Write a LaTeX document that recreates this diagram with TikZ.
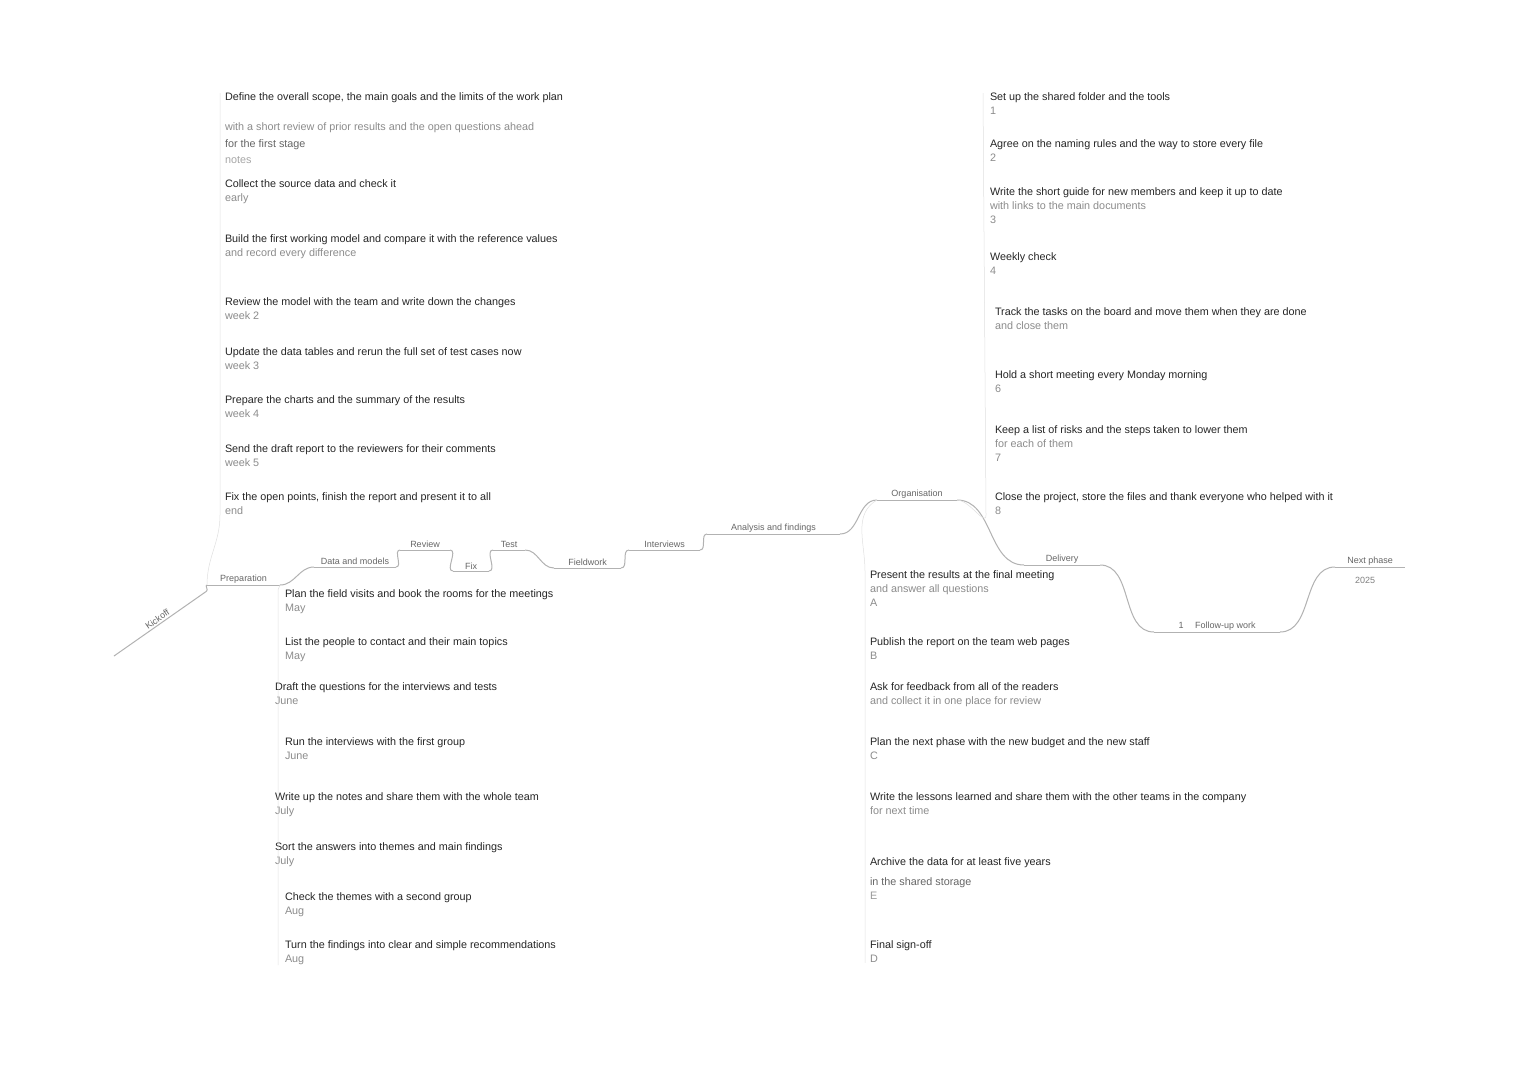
\documentclass[tikz,border=0pt]{standalone}
\usepackage{fontspec}
\setmainfont{Liberation Sans}
\newcommand\itemnode[4]{\node[item] (#1) at (#2) {#3\\{\color{black!45}#4}};}
\begin{document}
\begin{tikzpicture}[x=1pt,y=-1pt,
  every node/.style={inner sep=0pt, outer sep=0pt},
  item/.style={anchor=north west, align=left, font=\fontsize{10.8}{14}\selectfont, text=black!85},
  tlab/.style={anchor=south west, font=\fontsize{9}{11}\selectfont, text=black!60, inner ysep=2pt},
  trunk/.style={draw=black!30, line width=1pt},
  twig/.style={draw=black!12, line width=0.5pt}]
\useasboundingbox[fill=white] (0,0) rectangle (1520,1080);

% ---------- trunk labels ----------
\node[tlab, rotate=35, minimum width=113pt] (t0) at (114,656) {Kickoff};
\node[tlab, minimum width=73pt] (t1) at (207,585) {Preparation};
\node[tlab, minimum width=82pt] (t2) at (314,567) {Data and models};
\node[tlab, minimum width=50pt] (t3) at (400,550) {Review};
\node[tlab, minimum width=36pt] (t4) at (453,571) {Fix};
\node[tlab, minimum width=32pt] (t5) at (493,550) {Test};
\node[tlab, minimum width=67pt] (t6) at (554,568) {Fieldwork};
\node[tlab, minimum width=71pt] (t7) at (629,550) {Interviews};
\node[tlab, minimum width=133pt] (t8) at (707,534) {Analysis and findings};
\node[tlab, minimum width=80pt] (t9) at (877,500) {Organisation};
\node[tlab, minimum width=76pt] (t10) at (1024,565) {Delivery};
\node[tlab, minimum width=126pt] (t11) at (1154,632) {1 \quad Follow-up work};
\node[tlab, minimum width=70pt, align=left] (t12) at (1335,567) {Next phase};
\node[anchor=north west, font=\fontsize{9}{11}\selectfont, text=black!50] (t12b) at (1355,577) {2025};

\foreach \n in {t0,t1,t2,t3,t4,t5,t6,t7,t8,t9,t10,t11,t12}
  \draw[trunk] (\n.south west) -- (\n.south east);
\draw[trunk] (t0.south east) to[out=35,in=180] (t1.south west);
\foreach \a/\b in {t1/t2,t2/t3,t3/t4,t4/t5,t5/t6,t6/t7,t7/t8,t8/t9,t9/t10,t10/t11,t11/t12}
  \draw[trunk] (\a.south east) to[out=0,in=180] (\b.south west);

% ---------- top-left cluster ----------
\node[item] (a1) at (225,93) {Define the overall scope, the main goals and the limits of the work plan\\[16pt]{\color{black!45}with a short review of prior results and the open questions ahead}\\[3pt]{\color{black!60}for the first stage}\\[2pt]{\color{black!35}notes}};
\itemnode{a2}{225,180}{Collect the source data and check it}{early}
\itemnode{a3}{225,235}{Build the first working model and compare it with the reference values}{and record every difference}
\itemnode{a4}{225,298}{Review the model with the team and write down the changes}{week 2}
\itemnode{a5}{225,348}{Update the data tables and rerun the full set of test cases now}{week 3}
\itemnode{a6}{225,396}{Prepare the charts and the summary of the results}{week 4}
\itemnode{a7}{225,445}{Send the draft report to the reviewers for their comments}{week 5}
\itemnode{a8}{225,493}{Fix the open points, finish the report and present it to all}{end}
\draw[twig] (t1.south west) to[out=90,in=-90] ([xshift=-5pt]a8.south west) -- ([xshift=-5pt]a1.north west);

% ---------- bottom-left cluster ----------
\itemnode{b1}{285,590}{Plan the field visits and book the rooms for the meetings}{May}
\itemnode{b2}{285,638}{List the people to contact and their main topics}{May}
\itemnode{b3}{275,683}{Draft the questions for the interviews and tests}{June}
\itemnode{b4}{285,738}{Run the interviews with the first group}{June}
\itemnode{b5}{275,793}{Write up the notes and share them with the whole team}{July}
\itemnode{b6}{275,843}{Sort the answers into themes and main findings}{July}
\itemnode{b7}{285,893}{Check the themes with a second group}{Aug}
\itemnode{b8}{285,941}{Turn the findings into clear and simple recommendations}{Aug}
\draw[twig] (t1.south east) to[out=-90,in=90] ([xshift=-7pt]b1.north west) -- ([xshift=-7pt]b8.south west);

% ---------- top-right cluster ----------
\itemnode{c1}{990,93}{Set up the shared folder and the tools}{1}
\itemnode{c2}{990,140}{Agree on the naming rules and the way to store every file}{2}
\node[item] (c3) at (990,188) {Write the short guide for new members and keep it up to date\\{\color{black!45}with links to the main documents}\\{\color{black!45}3}};
\itemnode{c4}{990,253}{Weekly check}{4}
\itemnode{c5}{995,308}{Track the tasks on the board and move them when they are done}{and close them}
\itemnode{c6}{995,371}{Hold a short meeting every Monday morning}{6}
\node[item] (c7) at (995,426) {Keep a list of risks and the steps taken to lower them\\{\color{black!45}for each of them}\\{\color{black!45}7}};
\itemnode{c8}{995,493}{Close the project, store the files and thank everyone who helped with it}{8}
\draw[twig] (t9.south east) to[out=0,in=-90] ([xshift=-9pt]c8.south west) -- ([xshift=-7pt]c1.north west);

% ---------- bottom-right cluster ----------
\node[item] (d1) at (870,571) {Present the results at the final meeting\\{\color{black!45}and answer all questions}\\{\color{black!45}A}};
\itemnode{d2}{870,638}{Publish the report on the team web pages}{B}
\itemnode{d3}{870,683}{Ask for feedback from all of the readers}{and collect it in one place for review}
\itemnode{d4}{870,738}{Plan the next phase with the new budget and the new staff}{C}
\itemnode{d5}{870,793}{Write the lessons learned and share them with the other teams in the company}{for next time}
\node[item] (d6) at (870,858) {Archive the data for at least five years\\[6pt]{\color{black!60}in the shared storage}\\{\color{black!40}E}};
\itemnode{d7}{870,941}{Final sign-off}{D}
\draw[twig] (t9.south west) to[out=-150,in=90] ([xshift=-5pt]d1.north west) -- ([xshift=-5pt]d7.south west);
\end{tikzpicture}
\end{document}
